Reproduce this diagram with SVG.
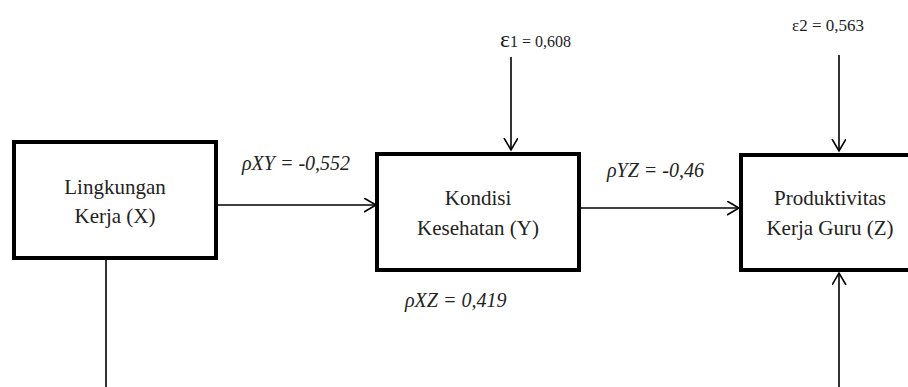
<svg xmlns="http://www.w3.org/2000/svg" width="908" height="387" viewBox="0 0 908 387">
<defs>
<style>
.box{fill:#fff;stroke:#000;stroke-width:4}
text{fill:#222;font-family:'Liberation Serif','Times New Roman',serif}
.lbl{font-size:21px;text-anchor:middle}
.coef{font-size:20px;font-style:italic}
.eps{font-size:17px}
.conn{fill:none;stroke:#000;stroke-width:1.6}
</style>
<marker id="arr" markerUnits="userSpaceOnUse" markerWidth="14" markerHeight="16" refX="12" refY="7" orient="auto">
<path d="M0,0 L12,7 L0,14" fill="none" stroke="#000" stroke-width="1.6"/>
</marker>
</defs>
<rect width="908" height="387" fill="#fff"/>
<g id="connectors">
<line class="conn" x1="216" y1="205" x2="376" y2="205" marker-end="url(#arr)"/>
<line class="conn" x1="579" y1="208" x2="739" y2="208" marker-end="url(#arr)"/>
<line class="conn" x1="511" y1="57" x2="511" y2="150" marker-end="url(#arr)"/>
<line class="conn" x1="839" y1="55" x2="839" y2="151" marker-end="url(#arr)"/>
<line class="conn" x1="106" y1="258" x2="106" y2="390"/>
<line class="conn" x1="839" y1="390" x2="839" y2="273" marker-end="url(#arr)"/>
<text class="coef" x="242" y="170">ρXY = -0,552</text>
<text class="coef" x="607" y="177">ρYZ = -0,46</text>
<text class="coef" x="405" y="307">ρXZ = 0,419</text>
<text class="eps" x="500" y="47"><tspan font-size="24">ε</tspan><tspan font-size="16">1 = 0,608</tspan></text>
<text class="eps" x="792" y="31">ε2 = 0,563</text>
</g>
<g id="node-x">
<rect class="box" x="14" y="142" width="202" height="116"/>
<text class="lbl" x="115" y="194">Lingkungan</text>
<text class="lbl" x="115" y="223">Kerja (X)</text>
</g>
<g id="node-y">
<rect class="box" x="377" y="154" width="202" height="116"/>
<text class="lbl" x="478" y="205">Kondisi</text>
<text class="lbl" x="478" y="235">Kesehatan (Y)</text>
</g>
<g id="node-z">
<rect class="box" x="741" y="155" width="180" height="115"/>
<text class="lbl" x="830" y="205">Produktivitas</text>
<text class="lbl" x="830" y="235">Kerja Guru (Z)</text>
</g>
</svg>
